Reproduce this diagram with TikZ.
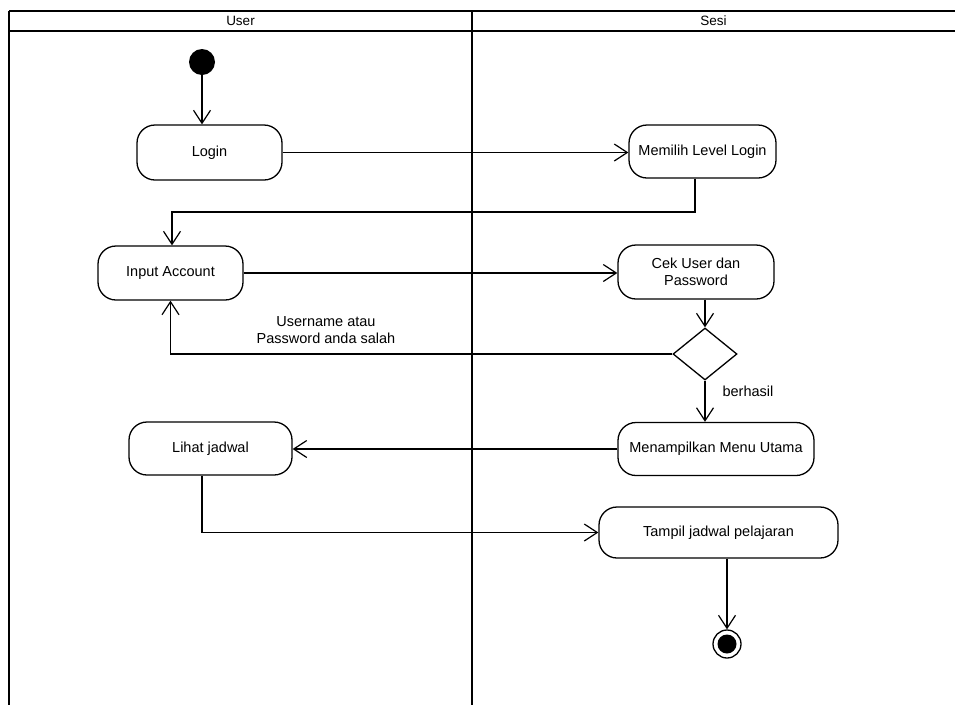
\documentclass[tikz,border=0pt]{standalone}
\usepackage{fontspec}
\setmainfont{Liberation Sans}
\usetikzlibrary{arrows.meta,shapes.geometric}
\begin{document}
\begin{tikzpicture}[x=1pt,y=-1pt,
  act/.style={draw, line width=1.3pt, rounded corners=18pt, align=center, inner sep=0pt, font=\fontsize{14.5}{17}\selectfont},
  flow/.style={line width=1.2pt, -{Straight Barb[length=13pt,width=17pt,line width=1.2pt]}},
  lbl/.style={font=\fontsize{14.5}{17}\selectfont, align=center},
  lane/.style={line width=2.6pt}]
\useasboundingbox (0,0) rectangle (955,705);
% swimlanes
\draw[line width=2pt] (9,11) -- (955,11);
\draw[lane] (9,31) -- (955,31);
\draw[lane] (9,11) -- (9,705);
\draw[lane] (472,11) -- (472,705);
\node[lbl, font=\fontsize{13.5}{15}\selectfont] (hu) at (240.5,21) {User};
\node[lbl, font=\fontsize{13.5}{15}\selectfont] (hs) at (713.5,21) {Sesi};
% nodes
\node[circle, fill=black, minimum size=26pt, inner sep=0pt] (init) at (202,62) {};
\node[act, minimum width=145pt, minimum height=55pt] (login) at (209.5,152.5) {Login};
\node[act, minimum width=147pt, minimum height=53pt] (memilih) at (702.5,151.5) {Memilih Level Login};
\node[act, minimum width=156pt, minimum height=54pt] (cek) at (696,272) {Cek User dan\\Password};
\node[act, minimum width=145pt, minimum height=54pt] (input) at (170.5,273) {Input Account};
\node[diamond, draw, line width=1.3pt, minimum width=64pt, minimum height=52pt, inner sep=0pt, aspect=1.23] (dec) at (705,354) {};
\node[act, minimum width=196pt, minimum height=53pt] (menu) at (716,449) {Menampilkan Menu Utama};
\node[act, minimum width=163pt, minimum height=53pt] (lihat) at (210.5,448.5) {Lihat jadwal};
\node[act, minimum width=239pt, minimum height=51pt] (tampil) at (718.5,532.5) {Tampil jadwal pelajaran};
\node[circle, draw, line width=1.3pt, minimum size=28pt, inner sep=0pt] (final) at (727,644) {};
\node[circle, fill=black, minimum size=19pt, inner sep=0pt] (finalin) at (final) {};
% helper coordinates
\coordinate (b1) at (172,212);
% connectors
\draw[flow] (init.south) -- (init.south |- login.north);
\draw[flow] (login.east) -- (login.east -| memilih.west);
\draw[flow] ([xshift=-7.5pt]memilih.south) |- (b1) -- (b1 |- input.north);
\draw[flow] (input.east) -- (input.east -| cek.west);
\draw[flow] (dec.north |- cek.south) -- (dec.north);
\draw[flow] (dec.west) -| (input.south);
\draw[flow] (dec.south) -- (dec.south |- menu.north);
\draw[flow] (menu.west) -- (menu.west -| lihat.east);
\draw[flow] ([xshift=-8.5pt]lihat.south) |- (tampil.west);
\draw[flow] (final.north |- tampil.south) -- (final.north);
% labels
\node[lbl] (l1) at (326,330) {Username atau\\Password anda salah};
\node[lbl] (l2) at (748,391) {berhasil};
\end{tikzpicture}
\end{document}
